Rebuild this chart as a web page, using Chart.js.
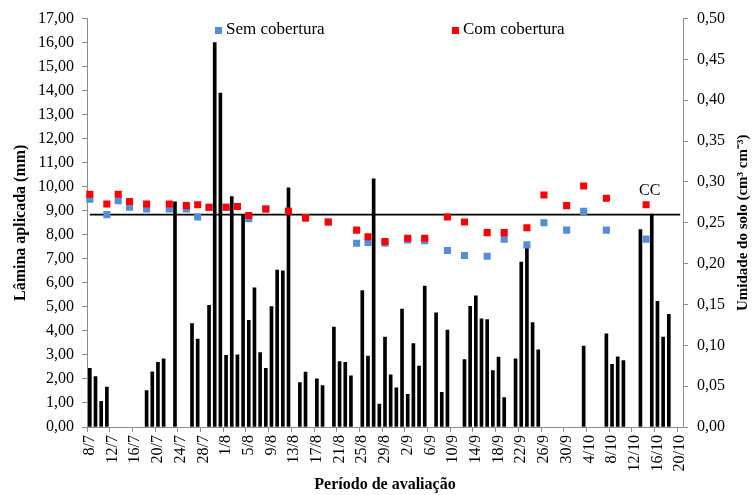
<!DOCTYPE html>
<html lang="pt-BR">
<head>
<meta charset="utf-8">
<title>Lâmina aplicada e umidade do solo</title>
<script src="https://cdn.jsdelivr.net/npm/chart.js@4.4.1/dist/chart.umd.min.js"></script>
<style>
  html, body { margin: 0; padding: 0; background: #fff; }
  #wrap { width: 755px; height: 495px; position: relative; }
</style>
</head>
<body>
<div id="wrap"><canvas id="laminaChart"></canvas></div>
<script>
// Dias do período de avaliação (8/7 a 20/10)
const dias = [
  '8/7','9/7','10/7','11/7','12/7','13/7','14/7','15/7','16/7','17/7','18/7','19/7',
  '20/7','21/7','22/7','23/7','24/7','25/7','26/7','27/7','28/7','29/7','30/7','31/7',
  '1/8','2/8','3/8','4/8','5/8','6/8','7/8','8/8','9/8','10/8','11/8','12/8','13/8',
  '14/8','15/8','16/8','17/8','18/8','19/8','20/8','21/8','22/8','23/8','24/8','25/8',
  '26/8','27/8','28/8','29/8','30/8','31/8',
  '1/9','2/9','3/9','4/9','5/9','6/9','7/9','8/9','9/9','10/9','11/9','12/9','13/9',
  '14/9','15/9','16/9','17/9','18/9','19/9','20/9','21/9','22/9','23/9','24/9','25/9',
  '26/9','27/9','28/9','29/9','30/9',
  '1/10','2/10','3/10','4/10','5/10','6/10','7/10','8/10','9/10','10/10','11/10',
  '12/10','13/10','14/10','15/10','16/10','17/10','18/10','19/10','20/10'
];

// Lâmina aplicada (mm) - barras
const irrigDias = [
  '8/7','9/7','10/7','11/7','18/7','19/7','20/7','21/7','23/7','26/7','27/7','29/7','30/7','31/7',
  '1/8','2/8','3/8','4/8','5/8','6/8','7/8','8/8','9/8','10/8','11/8','12/8','14/8','15/8',
  '17/8','18/8','20/8','21/8','22/8','23/8','25/8','26/8','27/8','28/8','29/8','30/8','31/8',
  '1/9','2/9','3/9','4/9','5/9','7/9','8/9','9/9','12/9','13/9','14/9','15/9','16/9','17/9',
  '18/9','19/9','21/9','22/9','23/9','24/9','25/9',
  '3/10','7/10','8/10','9/10','10/10','13/10','15/10','16/10','17/10','18/10'
];
const laminaAplicada = [
  2.44, 2.10, 1.07, 1.66, 1.52, 2.30, 2.69, 2.84, 9.37, 4.31, 3.66, 5.06, 16.00, 13.90,
  2.98, 9.59, 3.00, 8.85, 4.44, 5.79, 3.10, 2.44, 5.01, 6.53, 6.50, 9.96, 1.85, 2.29,
  2.00, 1.72, 4.16, 2.72, 2.69, 2.13, 5.68, 2.95, 10.33, 0.95, 3.74, 2.17, 1.63,
  4.91, 1.36, 3.47, 2.54, 5.87, 4.75, 1.44, 4.03, 2.81, 5.02, 5.46, 4.50, 4.47, 2.35,
  2.91, 1.22, 2.84, 6.87, 7.65, 4.35, 3.21,
  3.37, 3.88, 2.61, 2.92, 2.76, 8.22, 8.86, 5.23, 3.74, 4.69
];

// Umidade do solo (cm3 cm-3) - pontos
const umidDias = [
  '8/7','11/7','13/7','15/7','18/7','22/7','25/7','27/7','29/7','1/8','3/8','5/8','8/8',
  '12/8','15/8','19/8','24/8','26/8','29/8','2/9','5/9','9/9','12/9','16/9','19/9','23/9',
  '26/9','30/9','3/10','7/10','14/10'
];
const semCobertura = [
  0.279, 0.260, 0.277, 0.269, 0.267, 0.267, 0.267, 0.257, 0.269, 0.269, 0.270, 0.255, 0.267,
  0.264, 0.256, 0.251, 0.225, 0.226, 0.225, 0.229, 0.228, 0.216, 0.210, 0.209, 0.230, 0.223,
  0.250, 0.241, 0.264, 0.241, 0.230
];
const comCobertura = [
  0.285, 0.273, 0.285, 0.276, 0.273, 0.273, 0.271, 0.272, 0.269, 0.269, 0.270, 0.259, 0.267,
  0.264, 0.256, 0.251, 0.241, 0.233, 0.227, 0.231, 0.231, 0.257, 0.251, 0.238, 0.238, 0.244,
  0.284, 0.271, 0.295, 0.280, 0.272
];

// Capacidade de campo
const capacidadeCampo = 0.26;
const ccDias = ['8/7', '20/10'];
const ccRotuloDia = '15/10';

const cinzaEixo = '#8c8c8c';
const fonteSerif = "'Liberation Serif', 'Times New Roman', serif";

const pontos = (xs, ys) => xs.map((d, i) => ({ x: d, y: ys[i] }));

// legenda, título do eixo direito e rótulo CC
const extras = {
  id: 'extras',
  afterDraw(chart) {
    const { ctx, chartArea, scales } = chart;
    ctx.save();
    ctx.fillStyle = '#000';
    ctx.textBaseline = 'middle';

    // legenda
    ctx.font = '17px ' + fonteSerif;
    const itens = [
      { cor: '#558ed5', texto: 'Sem cobertura', x: 215 },
      { cor: '#ff0000', texto: 'Com cobertura', x: 452 }
    ];
    itens.forEach(it => {
      ctx.fillStyle = it.cor;
      ctx.fillRect(it.x, 27, 7, 7);
      ctx.fillStyle = '#000';
      ctx.textAlign = 'left';
      ctx.fillText(it.texto, it.x + 11, 30);
    });

    // CC
    ctx.font = '16px ' + fonteSerif;
    ctx.textAlign = 'center';
    ctx.fillText('CC', scales.x.getPixelForValue(dias.indexOf(ccRotuloDia)) - 2,
      scales.y1.getPixelForValue(capacidadeCampo) - 24);

    // título do eixo direito
    ctx.font = 'bold 15px ' + fonteSerif;
    ctx.translate(743, (chartArea.top + chartArea.bottom) / 2);
    ctx.rotate(-Math.PI / 2);
    ctx.textAlign = 'center';
    ctx.fillText('Umidade do solo (cm³ cm⁻³)', 0, 0);
    ctx.restore();
  }
};

const ctxLamina = document.getElementById('laminaChart').getContext('2d');
const laminaChart = new Chart(ctxLamina, {
  data: {
    labels: dias,
    datasets: [
      {
        type: 'scatter',
        label: 'Com cobertura',
        data: pontos(umidDias, comCobertura),
        yAxisID: 'y1',
        backgroundColor: '#ff0000',
        borderColor: '#ff0000',
        borderWidth: 0,
        pointStyle: 'rect',
        pointRadius: 5,
        order: 0
      },
      {
        type: 'scatter',
        label: 'Sem cobertura',
        data: pontos(umidDias, semCobertura),
        yAxisID: 'y1',
        backgroundColor: '#558ed5',
        borderColor: '#558ed5',
        borderWidth: 0,
        pointStyle: 'rect',
        pointRadius: 5,
        order: 1
      },
      {
        type: 'line',
        label: 'CC',
        data: ccDias.map(d => ({ x: d, y: capacidadeCampo })),
        yAxisID: 'y1',
        borderColor: '#000',
        borderWidth: 1.8,
        pointRadius: 0,
        fill: false,
        order: 2
      },
      {
        type: 'bar',
        label: 'Lâmina aplicada',
        data: pontos(irrigDias, laminaAplicada),
        yAxisID: 'y',
        backgroundColor: '#000',
        borderWidth: 0,
        barThickness: 3,
        order: 3
      }
    ]
  },
  options: {
    responsive: true,
    maintainAspectRatio: false,
    animation: false,
    layout: { padding: { top: 14, left: 0, right: 0, bottom: 0 } },
    plugins: {
      legend: { display: false },
      tooltip: { enabled: false }
    },
    scales: {
      x: {
        type: 'category',
        offset: true,
        afterFit: s => { s.height = 68; },
        grid: {
          offset: true,
          drawOnChartArea: false,
          drawTicks: true,
          tickLength: 5,
          color: c => (c.index % 4 === 0 ? cinzaEixo : 'rgba(0,0,0,0)')
        },
        border: { color: cinzaEixo, width: 1 },
        ticks: {
          autoSkip: false,
          minRotation: 90,
          maxRotation: 90,
          padding: 3,
          color: '#000',
          font: { family: fonteSerif, size: 16 },
          callback: function (v, i) { return i % 4 === 0 ? dias[i] : ''; }
        },
        title: {
          display: true,
          text: 'Período de avaliação',
          color: '#000',
          font: { family: fonteSerif, size: 16, weight: 'bold' },
          padding: { top: 0, bottom: 1 }
        }
      },
      y: {
        position: 'left',
        min: 0,
        max: 17,
        afterFit: s => { s.width = 87; },
        grid: { drawOnChartArea: false, tickLength: 5, color: cinzaEixo },
        border: { color: cinzaEixo, width: 1 },
        ticks: {
          stepSize: 1,
          padding: 8,
          color: '#000',
          font: { family: fonteSerif, size: 16 },
          callback: v => v.toFixed(2).replace('.', ',')
        },
        title: {
          display: true,
          text: 'Lâmina aplicada (mm)',
          color: '#000',
          font: { family: fonteSerif, size: 16, weight: 'bold' },
          padding: { top: 11, bottom: 0 }
        }
      },
      y1: {
        position: 'right',
        min: 0,
        max: 0.5,
        afterFit: s => { s.width = 72; },
        grid: { drawOnChartArea: false, tickLength: 5, color: cinzaEixo },
        border: { color: cinzaEixo, width: 1 },
        ticks: {
          stepSize: 0.05,
          padding: 9,
          color: '#000',
          font: { family: fonteSerif, size: 16 },
          callback: v => v.toFixed(2).replace('.', ',')
        }
      }
    }
  },
  plugins: [extras]
});
</script>
</body>
</html>
